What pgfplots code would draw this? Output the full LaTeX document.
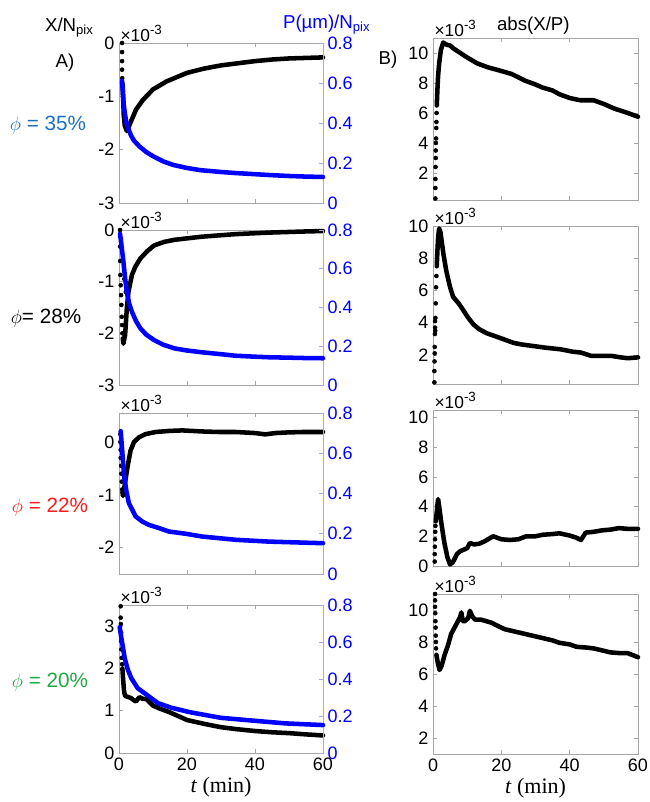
\documentclass[border=0pt]{standalone}
\usepackage{fontspec}
\setmainfont{Liberation Sans}
\newfontfamily\timesfont{Liberation Serif}
\usepackage{pgfplots}
\pgfplotsset{compat=1.18}
\definecolor{phiblue}{HTML}{1F6FC0}
\definecolor{phired}{HTML}{FF1A1A}
\definecolor{phigreen}{HTML}{22A844}
\definecolor{spine}{HTML}{A6A6A6}
\definecolor{bluespine}{HTML}{A8A8F8}
\pgfplotsset{
  base/.style={scale only axis, anchor=south west, xmin=0, xmax=60, xtick={0,20,40,60},
    axis line style={draw=spine}, tick style={draw=spine, thin}, major tick length=3pt,
    tick align=inside, ticklabel style={font=\fontsize{13.5}{15}\selectfont},
    /pgf/number format/assume math mode=true, scaled y ticks=false, clip=false},
  noxlab/.style={xticklabels={}},
  tlab/.style={xlabel={\timesfont\fontsize{16.5}{18}\selectfont\textit{t} (min)}, xlabel style={yshift=2pt}},
  right/.style={scale only axis, anchor=south west, xmin=0, xmax=60, axis x line=none,
    axis y line*=right, ymin=0, ymax=0.8, ytick={0,0.2,0.4,0.6,0.8},
    y axis line style={draw=bluespine}, ytick style={draw=bluespine, thin}, major tick length=3pt,
    tick align=inside, yticklabel style={blue, font=\fontsize{13.5}{15}\selectfont},
    /pgf/number format/assume math mode=true, clip=false},
  blk/.style={black, line width=3.4pt, line join=round, line cap=round},
  dots/.style={black, only marks, mark=*, mark size=1.5pt},
  bl/.style={blue, line width=3.4pt, line join=round, line cap=round},
}
\newcommand{\expo}{\node[anchor=south west, inner sep=1pt, font=\fontsize{13}{14}\selectfont] at (rel axis cs:0,1) {×10\raisebox{0.75ex}{\fontsize{10}{11}\selectfont -3}};}
\begin{document}
\begin{tikzpicture}
\useasboundingbox (0,0) rectangle (486.75pt,601.5pt);
% ---- left column, row 1
\begin{axis}[base, noxlab, at={(89.25pt,449.25pt)}, width=153pt, height=120pt,
  ymin=-3, ymax=0, ytick={-3,-2,-1,0}, ytick pos=left]
\addplot[dots] coordinates {(0.9,0) (0.9,-0.17) (0.9,-0.34) (0.9,-0.5) (0.95,-0.66)};
\addplot[blk] coordinates {(1.0,-0.75) (1.2,-1.0) (1.4,-1.35) (1.7,-1.55) (2.3,-1.65) (3.0,-1.55)
  (4,-1.4) (5,-1.25) (7,-1.07) (10,-0.87) (14,-0.72) (20,-0.56) (25,-0.48) (30,-0.42)
  (35,-0.38) (40,-0.34) (45,-0.31) (50,-0.29) (55,-0.28) (60,-0.27)};
\expo
\end{axis}
\begin{axis}[right, at={(89.25pt,449.25pt)}, width=153pt, height=120pt]
\addplot[bl] coordinates {(0.9,0.61) (1.1,0.56) (1.4,0.49) (1.8,0.44) (2.2,0.40) (3,0.36)
  (3.6,0.335) (4.5,0.31) (6,0.283) (8,0.255) (10,0.234) (13,0.208) (16,0.19) (20,0.175)
  (24,0.164) (30,0.155) (34,0.15) (40,0.144) (45,0.139) (50,0.135) (55,0.132) (60,0.13)};
\end{axis}
% ---- left column, row 2
\begin{axis}[base, noxlab, at={(89.25pt,312.75pt)}, width=153pt, height=116.25pt,
  ymin=-3, ymax=0, ytick={-3,-2,-1,0}, ytick pos=left]
\addplot[dots] coordinates {(0.3,0) (0.3,-0.32) (0.35,-0.6) (0.4,-0.87) (0.5,-1.07)
  (0.6,-1.26) (0.7,-1.45) (0.8,-1.68) (0.9,-1.84) (1.0,-2.0) (2.0,-1.2) (1.6,-0.95)};
\addplot[blk] coordinates {(1.1,-2.1) (1.3,-2.2) (1.8,-2.03) (2.3,-1.52) (2.8,-1.19) (3.8,-0.87)
  (4.8,-0.71) (6.3,-0.55) (8.3,-0.41) (10.3,-0.30) (13.3,-0.23) (16.3,-0.19) (20.3,-0.16)
  (24.3,-0.13) (34.3,-0.08) (44.3,-0.05) (54,-0.03) (60,-0.02)};
\expo
\end{axis}
\begin{axis}[right, at={(89.25pt,312.75pt)}, width=153pt, height=116.25pt]
\addplot[bl] coordinates {(0.3,0.78) (0.6,0.74) (1.0,0.68) (1.3,0.635) (1.8,0.55) (2.3,0.48)
  (3,0.42) (3.8,0.378) (5,0.33) (6.3,0.292) (8,0.26) (10.3,0.232) (13,0.208) (16.3,0.189)
  (20,0.178) (24.3,0.169) (30,0.159) (34.3,0.151) (40,0.146) (44.3,0.143) (50,0.141)
  (55,0.139) (60,0.138)};
\end{axis}
% ---- left column, row 3
\begin{axis}[base, noxlab, at={(89.25pt,171pt)}, width=153pt, height=120.75pt,
  ymin=-2.5, ymax=0.55, ytick={-2,-1,0}, ytick pos=left]
\addplot[dots] coordinates {(0.4,0.15) (0.4,0.0) (0.5,-0.15) (0.5,-0.3) (0.6,-0.45)
  (0.7,-0.6) (0.8,-0.75) (0.9,-0.9)};
\addplot[blk] coordinates {(1.0,-0.95) (1.2,-1.02) (1.6,-0.85) (2.5,-0.47) (3.4,-0.16) (4.4,0)
  (5.9,0.09) (7.8,0.15) (10.8,0.19) (14.7,0.21) (18.6,0.22) (24.5,0.2) (29.4,0.19)
  (34.3,0.19) (40,0.17) (43,0.145) (46,0.17) (49,0.18) (54,0.19) (60,0.19)};
\expo
\end{axis}
\begin{axis}[right, at={(89.25pt,171pt)}, width=153pt, height=120.75pt]
\addplot[bl] coordinates {(0.5,0.71) (1,0.6) (1.5,0.485) (2.2,0.41) (2.9,0.352) (4.9,0.286)
  (6.9,0.26) (8.8,0.244) (11.8,0.228) (14.7,0.211) (19.6,0.2) (24.5,0.186) (34.3,0.17)
  (44,0.161) (54,0.156) (60,0.153)};
\end{axis}
% ---- left column, row 4
\begin{axis}[base, tlab, at={(89.25pt,36.75pt)}, width=153pt, height=111pt,
  ymin=0, ymax=3.5, ytick={0,1,2,3}, ytick pos=left]
\addplot[dots] coordinates {(0.5,3.47) (0.5,3.2) (0.55,3.05) (0.6,2.85) (0.6,2.65) (0.7,2.45)
  (0.8,2.25) (0.9,2.1)};
\addplot[blk] coordinates {(1.0,2.0) (1.2,1.75) (1.5,1.45) (1.8,1.35) (2.5,1.33) (3.5,1.3)
  (4.5,1.24) (5,1.22) (6,1.32) (7,1.28) (8,1.28) (10,1.12) (12,1.05) (15,0.96) (20,0.78)
  (25,0.69) (30,0.61) (35,0.56) (40,0.52) (45,0.49) (50,0.47) (55,0.44) (60,0.415)};
\expo
\end{axis}
\begin{axis}[right, at={(89.25pt,36.75pt)}, width=153pt, height=111pt]
\addplot[bl] coordinates {(0.2,0.68) (0.7,0.62) (1.2,0.565) (1.7,0.51) (2.6,0.45) (3.6,0.405)
  (5.5,0.35) (8.5,0.31) (11.4,0.27) (15.3,0.245) (21,0.22) (30,0.19) (40,0.174) (49,0.16)
  (60,0.151)};
\end{axis}
% ---- right column, row 1
\begin{axis}[base, noxlab, at={(324.75pt,451.5pt)}, width=153.75pt, height=121.5pt,
  ymin=0.2, ymax=11, ytick={2,4,6,8,10}]
\addplot[dots] coordinates {(0.7,0.3) (0.7,1.0) (0.7,1.6) (0.75,2.4) (0.8,3.0) (0.8,3.5)
  (0.85,4.0) (0.9,4.3) (0.95,5.0) (1.0,5.4) (1.05,6.0)};
\addplot[blk] coordinates {(1.1,6.5) (1.3,7.6) (1.5,8.5) (1.8,9.3) (2.3,10.2) (3.0,10.7)
  (4,10.55) (5,10.5) (6,10.3) (8,10.0) (10,9.7) (13,9.3) (16,9.05) (20,8.8) (23,8.6)
  (27,8.15) (30,7.9) (32,7.7) (35,7.5) (37,7.25) (40,7.0) (43,6.85) (47,6.85) (50,6.6)
  (53,6.3) (57,6.0) (60,5.75)};
\expo
\end{axis}
% ---- right column, row 2
\begin{axis}[base, noxlab, at={(324.75pt,313.5pt)}, width=153.75pt, height=118.5pt,
  ymin=0.2, ymax=10, ytick={2,4,6,8,10}]
\addplot[dots] coordinates {(0.4,0.3) (0.4,1.0) (0.45,1.6) (0.5,2.1) (0.5,2.5) (0.55,3.3)
  (0.6,3.7) (0.6,4.1) (0.65,3.5) (0.7,4.3) (0.8,5.2) (0.9,6.2) (1.0,6.9)};
\addplot[blk] coordinates {(1.1,7.5) (1.3,8.5) (1.5,9.3) (1.8,9.85) (2.2,9.6) (2.7,8.8)
  (3.1,8.2) (3.9,7.2) (5,6.2) (5.9,5.6) (7.5,5.2) (8.8,4.8) (10,4.4) (11.8,3.9) (13.5,3.6)
  (15.7,3.35) (19.7,3.05) (23.6,2.75) (26,2.65) (29.5,2.55) (33,2.45) (37.4,2.35) (41,2.2)
  (43.3,2.15) (46.2,1.95) (50,1.95) (52,1.95) (55,1.85) (57,1.8) (60,1.85)};
\expo
\end{axis}
% ---- right column, row 3
\begin{axis}[base, noxlab, at={(324.75pt,177pt)}, width=153.75pt, height=117pt,
  ymin=0, ymax=10.5, ytick={0,2,4,6,8,10}]
\addplot[dots] coordinates {(0.5,0.3) (0.5,0.8) (0.55,1.3) (0.6,1.8) (0.65,2.3) (0.7,2.7)};
\addplot[blk] coordinates {(0.8,3.0) (1.0,3.4) (1.3,4.1) (1.5,4.5) (1.8,4.0) (2.5,2.8)
  (3.3,1.6) (4.2,0.6) (5,0.1) (5.8,0.25) (7,0.8) (8,1.0) (9,1.1) (10,1.2) (10.8,1.55)
  (12,1.45) (13.5,1.5) (15,1.65) (17.6,2.0) (20,1.8) (22.5,1.75) (25,1.8) (27.3,2.0)
  (30,2.0) (32,2.1) (35,2.15) (37,2.2) (40,2.05) (42,1.9) (43.3,1.75) (44.7,2.25)
  (47,2.3) (49.5,2.4) (52,2.45) (54.4,2.55) (57,2.5) (60,2.5)};
\expo
\end{axis}
% ---- right column, row 4
\begin{axis}[base, tlab, at={(324.75pt,36pt)}, width=153.75pt, height=120pt,
  ymin=1, ymax=11, ytick={2,4,6,8,10}]
\addplot[dots] coordinates {(0.6,11.0) (0.6,10.6) (0.6,10.2) (0.65,9.8) (0.7,9.3) (0.75,8.9)
  (0.8,8.4) (0.85,8.0) (0.9,7.6)};
\addplot[blk] coordinates {(1.0,7.2) (1.4,6.7) (1.9,6.25) (2.5,6.5) (3.4,7.2) (4.4,7.8)
  (5.3,8.5) (6.3,8.9) (7.3,9.3) (8.0,9.6) (8.3,9.85) (8.7,9.3) (9.3,9.3) (10.3,9.5)
  (10.8,9.95) (11.5,9.6) (12.3,9.4) (14,9.4) (17.2,9.2) (19,9.0) (21,8.8) (24,8.65)
  (27,8.5) (30,8.35) (32,8.25) (35,8.1) (37,7.95) (40,7.85) (42,7.7) (45,7.65) (47,7.6)
  (50,7.45) (52,7.35) (55,7.3) (57,7.3) (60,7.05)};
\expo
\end{axis}
% ---- labels
\begin{scope}[every node/.style={font=\fontsize{14}{16}\selectfont, inner sep=0pt}]
\node at (52pt,581pt) {X/N\textsubscript{pix}};
\node[blue] at (245pt,583pt) {P(µm)/N\textsubscript{pix}};
\node at (400pt,582pt) {abs(X/P)};
\node at (48.75pt,554.25pt) {A)};
\node at (291pt,556.5pt) {B)};
\node[phiblue, font=\fontsize{15.5}{17}\selectfont] at (36pt,507.75pt) {$\phi$ = 35\%};
\node[black, font=\fontsize{15.5}{17}\selectfont] at (34.5pt,363pt) {$\phi$= 28\%};
\node[phired, font=\fontsize{15.5}{17}\selectfont] at (37.5pt,221.25pt) {$\phi$ = 22\%};
\node[phigreen, font=\fontsize{15.5}{17}\selectfont] at (37.5pt,90pt) {$\phi$ = 20\%};
\end{scope}
\end{tikzpicture}
\end{document}
